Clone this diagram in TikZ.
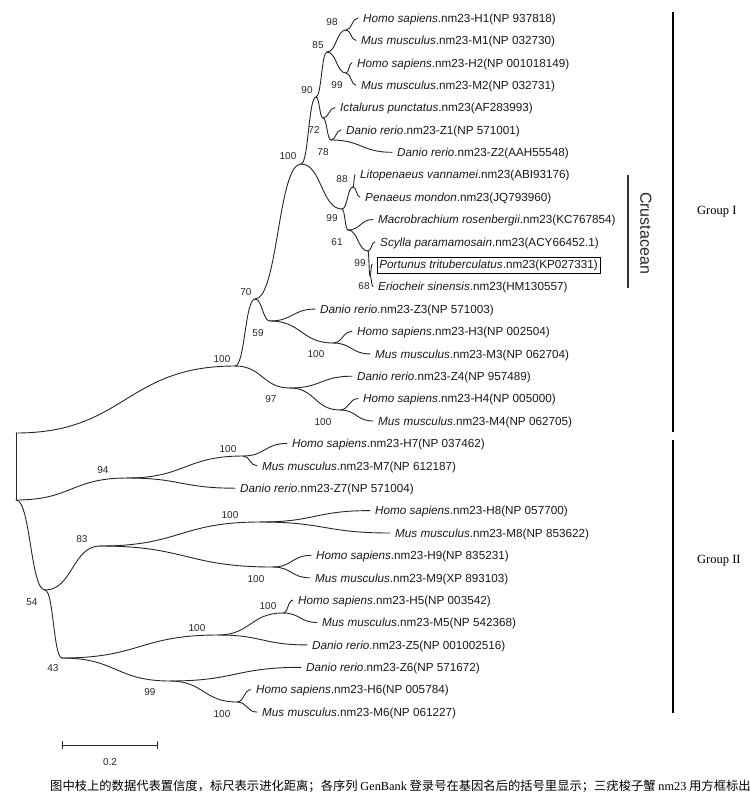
\documentclass[tikz,border=0pt]{standalone}
\usepackage{fontspec}
\setmainfont{Liberation Sans}
\newfontfamily\seriffont{Liberation Serif}
\newfontfamily\cjkfont{Noto Sans CJK SC}
\usetikzlibrary{calc}
\tikzset{
  branch/.style={line width=0.9pt, draw=black!85, line cap=round},
  tiplabel/.style={anchor=west, inner sep=0pt, inner xsep=5pt, text height=8.4pt, text depth=0pt,
    font=\fontsize{11.7}{13}\selectfont, text=black!90},
  boot/.style={font=\fontsize{10}{12}\selectfont, inner sep=0pt, text=black!85},
  groupbar/.style={line width=2.6pt, draw=black},
  grouplabel/.style={anchor=west, font=\seriffont\fontsize{12.5}{14}\selectfont, inner sep=0pt},
}
\newcommand\br[2]{\path ($(#1)!0.5!(#2)$) coordinate (mid);
  \draw[branch] (#1) .. controls (mid |- #1) and (mid |- #2) .. (#2);}
\newcommand\spn[1]{\textit{#1}}
\begin{document}
\begin{tikzpicture}[x=1pt,y=-1pt]
\useasboundingbox (0,0) rectangle (750,807);
% ---------- internal nodes ----------
\coordinate (rT) at (16,433);
\coordinate (rB) at (16,500);
\coordinate (GI) at (235,366);
\coordinate (n70) at (255,299);
\coordinate (nT) at (301,164);
\coordinate (n90) at (316,97);
\coordinate (n85) at (327,52);
\coordinate (n98) at (346,30);
\coordinate (n99a) at (346,73);
\coordinate (n72) at (323,118);
\coordinate (n78) at (331,140);
\coordinate (n99c) at (342,209);
\coordinate (n88) at (353,187);
\coordinate (n61) at (348,230);
\coordinate (n99d) at (368,251);
\coordinate (n68) at (370,276);
\coordinate (n59) at (270,321);
\coordinate (n100c) at (333,343);
\coordinate (n97) at (290,388);
\coordinate (n100d) at (340,410);
\coordinate (n94) at (127,478);
\coordinate (n100e) at (243,456);
\coordinate (n54) at (45,590);
\coordinate (n83) at (100,546);
\coordinate (n100f) at (260,522);
\coordinate (n100g) at (273,567);
\coordinate (n43) at (62,658);
\coordinate (n100h) at (218,635);
\coordinate (n100i) at (283,613);
\coordinate (n99e) at (170,681);
\coordinate (n100j) at (237,702);
% ---------- tips ----------
\node[tiplabel] (tH1) at (358,18.0) {\spn{Homo sapiens}.nm23-H1(NP 937818)};
\node[tiplabel] (tM1) at (356,40.4) {\spn{Mus musculus}.nm23-M1(NP 032730)};
\node[tiplabel] (tH2) at (352,62.8) {\spn{Homo sapiens}.nm23-H2(NP 001018149)};
\node[tiplabel] (tM2) at (356,85.2) {\spn{Mus musculus}.nm23-M2(NP 032731)};
\node[tiplabel] (tIc) at (335,107.6) {\spn{Ictalurus punctatus}.nm23(AF283993)};
\node[tiplabel] (tZ1) at (341,130.0) {\spn{Danio rerio}.nm23-Z1(NP 571001)};
\node[tiplabel] (tZ2) at (392,152.3) {\spn{Danio rerio}.nm23-Z2(AAH55548)};
\node[tiplabel] (tLi) at (355,174.7) {\spn{Litopenaeus vannamei}.nm23(ABI93176)};
\node[tiplabel] (tPe) at (360,197.1) {\spn{Penaeus mondon}.nm23(JQ793960)};
\node[tiplabel] (tMa) at (373,219.5) {\spn{Macrobrachium rosenbergii}.nm23(KC767854)};
\node[tiplabel] (tSc) at (375,241.9) {\spn{Scylla paramamosain}.nm23(ACY66452.1)};
\coordinate (ePo) at (372,264.3);
\node[tiplabel, draw, line width=0.6pt, inner xsep=2.5pt, inner ysep=2.5pt, text depth=2.6pt] (tPo) at (376.5,265.6) {\spn{Portunus trituberculatus}.nm23(KP027331)};
\node[tiplabel] (tEr) at (373,286.7) {\spn{Eriocheir sinensis}.nm23(HM130557)};
\node[tiplabel] (tZ3) at (315,309.1) {\spn{Danio rerio}.nm23-Z3(NP 571003)};
\node[tiplabel] (tH3) at (352,331.5) {\spn{Homo sapiens}.nm23-H3(NP 002504)};
\node[tiplabel] (tM3) at (370,353.9) {\spn{Mus musculus}.nm23-M3(NP 062704)};
\node[tiplabel] (tZ4) at (352,376.2) {\spn{Danio rerio}.nm23-Z4(NP 957489)};
\node[tiplabel] (tH4) at (358,398.6) {\spn{Homo sapiens}.nm23-H4(NP 005000)};
\node[tiplabel] (tM4) at (373,421.0) {\spn{Mus musculus}.nm23-M4(NP 062705)};
\node[tiplabel] (tH7) at (287,443.4) {\spn{Homo sapiens}.nm23-H7(NP 037462)};
\node[tiplabel] (tM7) at (257,465.8) {\spn{Mus musculus}.nm23-M7(NP 612187)};
\node[tiplabel] (tZ7) at (235,488.2) {\spn{Danio rerio}.nm23-Z7(NP 571004)};
\node[tiplabel] (tH8) at (370,510.6) {\spn{Homo sapiens}.nm23-H8(NP 057700)};
\node[tiplabel] (tM8) at (390,533.0) {\spn{Mus musculus}.nm23-M8(NP 853622)};
\node[tiplabel] (tH9) at (311,555.4) {\spn{Homo sapiens}.nm23-H9(NP 835231)};
\node[tiplabel] (tM9) at (310,577.8) {\spn{Mus musculus}.nm23-M9(XP 893103)};
\node[tiplabel] (tH5) at (293,600.1) {\spn{Homo sapiens}.nm23-H5(NP 003542)};
\node[tiplabel] (tM5) at (317,622.5) {\spn{Mus musculus}.nm23-M5(NP 542368)};
\node[tiplabel] (tZ5) at (307,644.9) {\spn{Danio rerio}.nm23-Z5(NP 001002516)};
\node[tiplabel] (tZ6) at (301,667.3) {\spn{Danio rerio}.nm23-Z6(NP 571672)};
\node[tiplabel] (tH6) at (251,689.7) {\spn{Homo sapiens}.nm23-H6(NP 005784)};
\node[tiplabel] (tM6) at (257,712.1) {\spn{Mus musculus}.nm23-M6(NP 061227)};
% ---------- branches ----------
\draw[branch] (rT) -- (rB);
\br{rT}{GI} \br{rB}{n94} \br{rB}{n54}
\br{GI}{n70} \br{GI}{n97}
\br{n70}{nT} \br{n70}{n59}
\br{nT}{n90} \br{nT}{n99c}
\br{n90}{n85} \br{n90}{n72}
\br{n85}{n98} \br{n85}{n99a}
\br{n98}{tH1.west} \br{n98}{tM1.west}
\br{n99a}{tH2.west} \br{n99a}{tM2.west}
\br{n72}{tIc.west} \br{n72}{n78}
\br{n78}{tZ1.west} \br{n78}{tZ2.west}
\br{n99c}{n88} \br{n99c}{n61}
\br{n88}{tLi.west} \br{n88}{tPe.west}
\br{n61}{tMa.west} \br{n61}{n99d}
\br{n99d}{tSc.west} \br{n99d}{n68}
\br{n68}{ePo} \br{n68}{tEr.west}
\br{n59}{tZ3.west} \br{n59}{n100c}
\br{n100c}{tH3.west} \br{n100c}{tM3.west}
\br{n97}{tZ4.west} \br{n97}{n100d}
\br{n100d}{tH4.west} \br{n100d}{tM4.west}
\br{n94}{n100e} \br{n94}{tZ7.west}
\br{n100e}{tH7.west} \br{n100e}{tM7.west}
\br{n54}{n83} \br{n54}{n43}
\br{n83}{n100f} \br{n83}{n100g}
\br{n100f}{tH8.west} \br{n100f}{tM8.west}
\br{n100g}{tH9.west} \br{n100g}{tM9.west}
\br{n43}{n100h} \br{n43}{n99e}
\br{n100h}{n100i} \br{n100h}{tZ5.west}
\br{n100i}{tH5.west} \br{n100i}{tM5.west}
\br{n99e}{tZ6.west} \br{n99e}{n100j}
\br{n100j}{tH6.west} \br{n100j}{tM6.west}
% ---------- bootstrap values ----------
\node[boot] (b98) at (332,22) {98};
\node[boot] (b85) at (318,45) {85};
\node[boot] (b99a) at (337,85) {99};
\node[boot] (b90) at (307,90) {90};
\node[boot] (b72) at (314,130) {72};
\node[boot] (b78) at (323,152) {78};
\node[boot] (bT) at (288,156) {100};
\node[boot] (b88) at (342,179) {88};
\node[boot] (b99c) at (332,218) {99};
\node[boot] (b61) at (337,242) {61};
\node[boot] (b99d) at (360,263) {99};
\node[boot] (b68) at (364,286) {68};
\node[boot] (b70) at (246,292) {70};
\node[boot] (b59) at (258,333) {59};
\node[boot] (b100c) at (316,354) {100};
\node[boot] (bGI) at (222,359) {100};
\node[boot] (b97) at (271,399) {97};
\node[boot] (b100d) at (323,422) {100};
\node[boot] (b100e) at (228,449) {100};
\node[boot] (b94) at (103,470) {94};
\node[boot] (b100f) at (230,515) {100};
\node[boot] (b83) at (82,539) {83};
\node[boot] (b100g) at (256,579) {100};
\node[boot] (b54) at (32,602) {54};
\node[boot] (b100i) at (268,606) {100};
\node[boot] (b100h) at (197,628) {100};
\node[boot] (b43) at (53,668) {43};
\node[boot] (b99e) at (150,692) {99};
\node[boot] (b100j) at (222,714) {100};
% ---------- group bars ----------
\coordinate (c1) at (628,175); \coordinate (c2) at (628,288);
\draw[line width=1.3pt, draw=black!80] (c1) -- (c2);
\node[rotate=-90, inner sep=0pt, font=\fontsize{16}{18}\selectfont, text=black!85] (crus) at (646,233) {Crustacean};
\coordinate (g1a) at (673,12); \coordinate (g1b) at (673,432);
\coordinate (g2a) at (673,440); \coordinate (g2b) at (673,713);
\draw[groupbar] (g1a) -- (g1b);
\draw[groupbar] (g2a) -- (g2b);
\node[grouplabel] (gl1) at (697,212) {Group I};
\node[grouplabel] (gl2) at (697,561) {Group II};
% ---------- scale bar ----------
\coordinate (s1) at (62,745); \coordinate (s2) at (157,745);
\draw[branch] (s1) -- (s2);
\draw[branch] ([yshift=-3.5]s1) -- ([yshift=3.5]s1);
\draw[branch] ([yshift=-3.5]s2) -- ([yshift=3.5]s2);
\node[boot] (sl) at (110,762) {0.2};
% ---------- caption ----------
\node[anchor=west, inner sep=0pt, font=\fontsize{12.3}{14}\selectfont] (cap) at (50,786)
  {\cjkfont 图中枝上的数据代表置信度，标尺表示进化距离；各序列 {\seriffont GenBank} 登录号在基因名后的括号里显示；三疣梭子蟹 {\seriffont nm23} 用方框标出};
\end{tikzpicture}
\end{document}
